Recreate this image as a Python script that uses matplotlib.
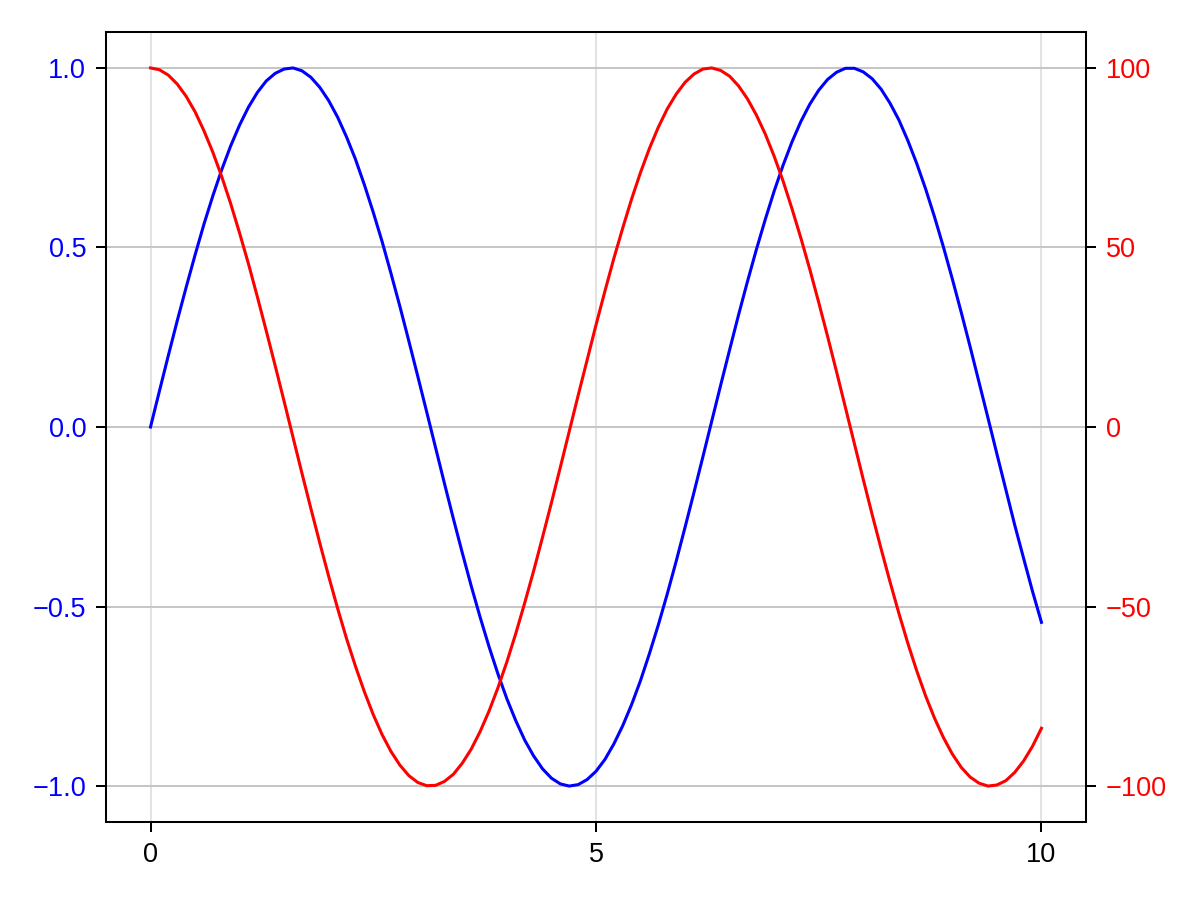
import matplotlib
matplotlib.use('Agg')
import matplotlib.pyplot as plt

x = [i / 10 for i in range(101)]
blue_y = [0.000, 0.100, 0.199, 0.296, 0.389, 0.479, 0.565, 0.644, 0.717, 0.783,
          0.841, 0.891, 0.932, 0.964, 0.985, 0.997, 1.000, 0.992, 0.974, 0.946,
          0.909, 0.863, 0.808, 0.746, 0.675, 0.598, 0.516, 0.427, 0.335, 0.239,
          0.141, 0.042, -0.058, -0.158, -0.256, -0.351, -0.443, -0.530, -0.612, -0.688,
          -0.757, -0.818, -0.872, -0.916, -0.952, -0.978, -0.994, -1.000, -0.996, -0.982,
          -0.959, -0.926, -0.883, -0.832, -0.773, -0.706, -0.631, -0.551, -0.465, -0.374,
          -0.279, -0.182, -0.083, 0.017, 0.117, 0.215, 0.312, 0.405, 0.494, 0.578,
          0.657, 0.729, 0.794, 0.851, 0.899, 0.938, 0.968, 0.988, 0.999, 0.999,
          0.989, 0.970, 0.941, 0.902, 0.855, 0.798, 0.734, 0.663, 0.585, 0.501,
          0.412, 0.319, 0.223, 0.124, 0.025, -0.075, -0.174, -0.273, -0.366, -0.458,
          -0.544]
red_y = [100.0, 99.5, 98.0, 95.5, 92.1, 87.8, 82.5, 76.5, 69.7, 62.2,
         54.0, 45.4, 36.2, 26.7, 17.0, 7.1, -2.9, -12.9, -22.7, -32.3,
         -41.6, -50.5, -58.9, -66.6, -73.7, -80.1, -85.7, -90.4, -94.2, -97.1,
         -99.0, -99.9, -99.8, -98.7, -96.7, -93.6, -89.7, -84.8, -79.1, -72.6,
         -65.4, -57.5, -49.0, -40.1, -30.7, -21.1, -11.2, -1.2, 8.8, 18.6,
         28.4, 37.8, 46.9, 55.4, 63.5, 70.9, 77.6, 83.5, 88.6, 92.7,
         96.0, 98.3, 99.7, 100.0, 99.3, 97.7, 95.0, 91.4, 86.9, 81.6,
         75.4, 68.5, 60.8, 52.6, 43.9, 34.7, 25.2, 15.4, 5.4, -4.6,
         -14.6, -24.4, -33.9, -43.1, -51.9, -60.2, -67.9, -74.9, -81.1, -86.5,
         -91.1, -94.8, -97.5, -99.2, -100.0, -99.7, -98.5, -96.2, -93.0, -88.9,
         -83.9]
xticks = [0, 5, 10]
left_ticks = [-1.0, -0.5, 0.0, 0.5, 1.0]
right_ticks = [-100, -50, 0, 50, 100]

plt.rcParams['font.family'] = ['Liberation Sans', 'DejaVu Sans']
fs = 19.5

fig = plt.figure(figsize=(12, 9), dpi=100)
ax = fig.add_axes([0.0883, 0.0867, 0.905 - 0.0883, 0.9644 - 0.0867])
ax2 = ax.twinx()

ax.plot(x, blue_y, color='blue', lw=2.2, zorder=3, solid_joinstyle='round')
ax2.plot(x, red_y, color='red', lw=2.2, zorder=3, solid_joinstyle='round')

ax.set_xlim(-0.5, 10.5)
ax.set_ylim(-1.1, 1.1)
ax2.set_ylim(-110, 110)
ax.set_xticks(xticks)
ax.set_yticks(left_ticks)
ax.set_yticklabels([('%.1f' % v).replace('-', '\u2212') for v in left_ticks])
ax2.set_yticks(right_ticks)

for a in (ax, ax2):
    for s in a.spines.values():
        s.set_linewidth(1.45)
    a.tick_params(length=7.2, width=1.45, pad=7, labelsize=fs, direction='out')
ax.tick_params(axis='y', labelcolor='blue')
ax2.tick_params(axis='y', labelcolor='red')

ax.set_axisbelow(True)
ax.grid(axis='x', color='#e3e3e3', lw=1.45)
ax.grid(axis='y', color='#c6c6c6', lw=1.45)

plt.savefig('out.png')
